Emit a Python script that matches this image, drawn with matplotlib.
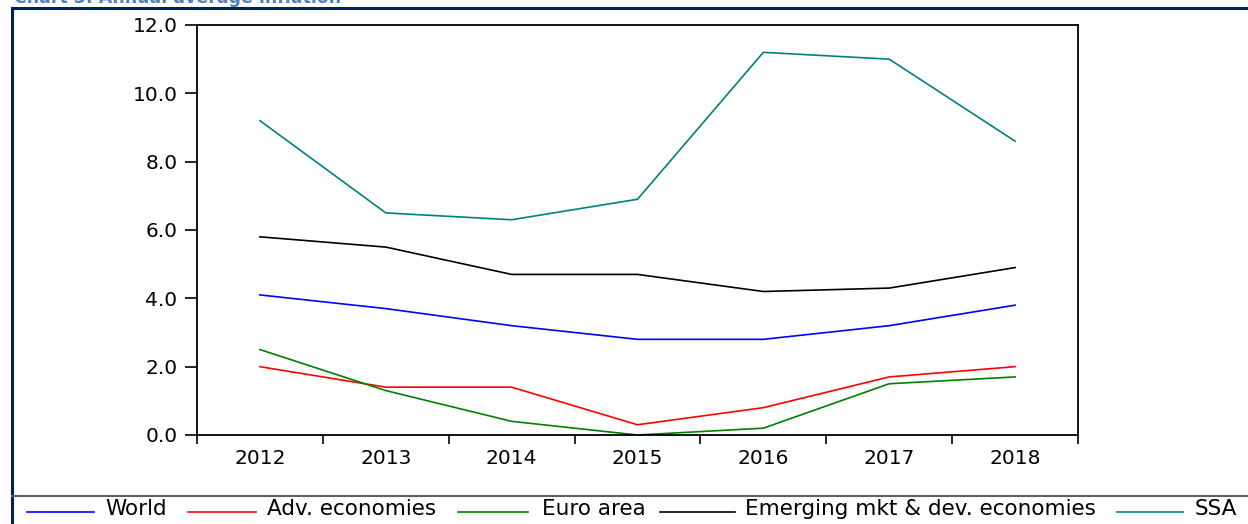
import matplotlib.pyplot as plt
from matplotlib.lines import Line2D

# Annual average inflation, 2012-2018
years = ["2012", "2013", "2014", "2015", "2016", "2017", "2018"]
world = [4.1, 3.7, 3.2, 2.8, 2.8, 3.2, 3.8]
adv = [2.0, 1.4, 1.4, 0.3, 0.8, 1.7, 2.0]
euro = [2.5, 1.3, 0.4, 0.0, 0.2, 1.5, 1.7]
emde = [5.8, 5.5, 4.7, 4.7, 4.2, 4.3, 4.9]
ssa = [9.2, 6.5, 6.3, 6.9, 11.2, 11.0, 8.6]

names = ["World", "Adv. economies", "Euro area", "Emerging mkt & dev. economies", "SSA"]
colors = ["#0000ff", "#ff0000", "#008000", "#000000", "#008080"]
values = [world, adv, euro, emde, ssa]

# legend layout in pixels (line start, line end, text start)
leg_pos = [(27, 94, 105), (188, 256, 267), (458, 528, 542), (660, 735, 745), (1117, 1183, 1195)]

W, H = 1248, 524
plt.rcParams['font.family'] = ['DejaVu Sans']

fig = plt.figure(figsize=(W / 100, H / 100), dpi=100)
ax = fig.add_axes([197/W, 1 - 435/H, (1078 - 197)/W, (435 - 25)/H])

x = list(range(len(years)))
for name, vals, col in zip(names, values, colors):
    ax.plot(x, vals, color=col, lw=1.2)

ax.set_xlim(-0.5, len(years) - 0.5)
ax.set_ylim(0, 12)
yt = [0, 2, 4, 6, 8, 10, 12]
ax.set_yticks(yt)
ax.set_yticklabels(["%.1f" % v for v in yt])
ax.set_xticks(x)
ax.set_xticklabels(years)
ax.set_xticks([i - 0.5 for i in range(len(years) + 1)], minor=True)
ax.tick_params(axis='x', which='major', length=0, pad=10, labelsize=14.5)
ax.tick_params(axis='x', which='minor', length=6.5, width=1.2, direction='out')
ax.tick_params(axis='y', length=9, width=1.2, pad=5, labelsize=14.5)
for s in ax.spines.values():
    s.set_linewidth(1.3)

# outer frame, legend separator and cut-off title
fig.add_artist(Line2D([12/W, 12/W], [0, 1 - 8/H], color="#002060", lw=2.2))
fig.add_artist(Line2D([12/W, 1], [1 - 8/H, 1 - 8/H], color="#002060", lw=2.2))
fig.add_artist(Line2D([12/W, 1], [1 - 496/H, 1 - 496/H], color="#606060", lw=1.5))
fig.text(14/W, 1 - 3/H, "Chart 3: Annual average inflation", color="#4f81bd",
         fontsize=12.5, fontweight='bold', va='baseline', ha='left')

# legend row
for (x0, x1, xt), name, col in zip(leg_pos, names, colors):
    fig.add_artist(Line2D([x0/W, x1/W], [1 - 512/H, 1 - 512/H], color=col, lw=1.2))
    fig.text(xt/W, 1 - 509/H, name, fontsize=15.5, va='center', ha='left')

fig.savefig("out.png", dpi=100)
